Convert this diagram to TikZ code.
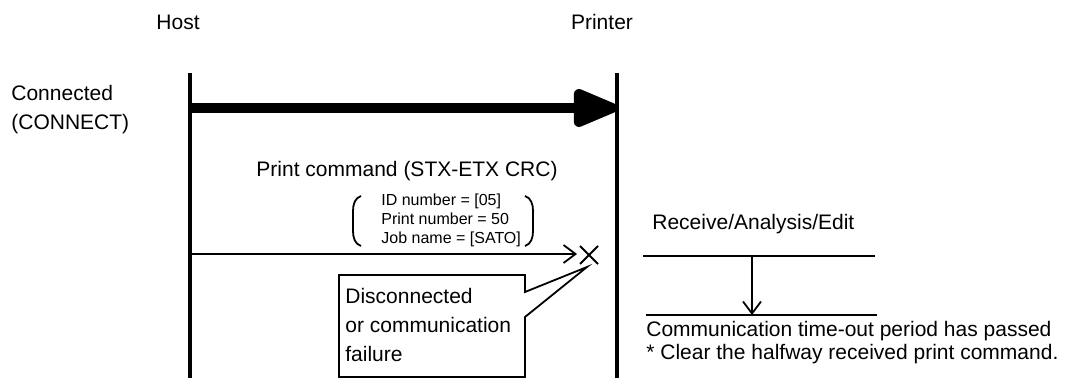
\documentclass[tikz,border=0pt]{standalone}
\usepackage{fontspec}
\setmainfont{Liberation Sans}
\usetikzlibrary{arrows.meta, positioning, calc}

\begin{document}
\begin{tikzpicture}[x=0.5pt, y=-0.5pt,
    lbl/.style={font=\fontsize{10.5}{14}\selectfont, inner sep=0pt, align=left},
    small/.style={font=\fontsize{8}{9.5}\selectfont, inner sep=0pt, align=left},
    life/.style={line width=1.6pt},
    thin/.style={line width=0.9pt},
    msg/.style={thin, -{Straight Barb[length=6pt, width=9pt]}},
    bigmsg/.style={line width=5pt, -{Triangle[length=26pt, width=20pt, round]}},
]
    \useasboundingbox (0,0) rectangle (1075,378);

    % === actors and lifelines ===
    \node[lbl] (host) at (178,22) {Host};
    \node[lbl] (printer) at (602,22) {Printer};
    \coordinate (hostTop) at (190,73);
    \coordinate (hostBot) at (190,378);
    \coordinate (prnTop) at (617,73);
    \coordinate (prnBot) at (617,378);
    \draw[life] (hostTop) -- (hostBot);
    \draw[life] (prnTop) -- (prnBot);

    % === connect ===
    \node[lbl, anchor=west] (conn) at (11,110) {Connected\\[0.5pt](CONNECT)};
    \coordinate (connFrom) at (190,108);
    \coordinate (connTo) at (617,108);
    \draw[bigmsg] (connFrom) -- (connTo);

    % === print command ===
    \node[lbl] (cmd) at (407,171) {Print command (STX-ETX CRC)};
    \node[small, anchor=west] (params) at (381,220) {ID number = [05]\\Print number = 50\\Job name = [SATO]};
    \draw[thin] (361,196) .. controls (355,198) and (353,204) .. (353,211) -- (353,231)
        .. controls (353,238) and (355,244) .. (361,246);
    \draw[thin] (525,196) .. controls (531,198) and (533,204) .. (533,211) -- (533,231)
        .. controls (533,238) and (531,244) .. (525,246);
    \coordinate (cmdFrom) at (190,254);
    \coordinate (cmdTo) at (577,254);
    \draw[msg] (cmdFrom) -- (cmdTo);
    \coordinate (lost) at (589,255);
    \draw[thin] ($(lost)+(-9,-9)$) -- ($(lost)+(9,9)$);
    \draw[thin] ($(lost)+(-9,9)$) -- ($(lost)+(9,-9)$);

    % === callout ===
    \node[lbl, anchor=west] (fail) at (345,325) {Disconnected\\[0.4pt]or communication\\[0.4pt]failure};
    \coordinate (tip) at (587,267);
    \draw[thin, line join=miter] (339,275) -- (525,275) -- (525,292) -- (tip) -- (525,317)
        -- (525,377) -- (339,377) -- cycle;

    % === printer side ===
    \node[lbl, anchor=base west] (recv) at (652,230) {Receive/Analysis/Edit};
    \coordinate (recvL) at (643,256);
    \coordinate (recvR) at (875,256);
    \coordinate (toutL) at (646,315);
    \coordinate (toutR) at (877,315);
    \draw[thin] (recvL) -- (recvR);
    \draw[thin] (toutL) -- (toutR);
    \coordinate (waitFrom) at (752,256);
    \coordinate (waitTo) at (752,315);
    \draw[msg] (waitFrom) -- (waitTo);
    \node[lbl, anchor=base west] (tout) at (646,337) {Communication time-out period has passed};
    \node[lbl, anchor=base west] (clear) at (646,360) {* Clear the halfway received print command.};
\end{tikzpicture}
\end{document}
